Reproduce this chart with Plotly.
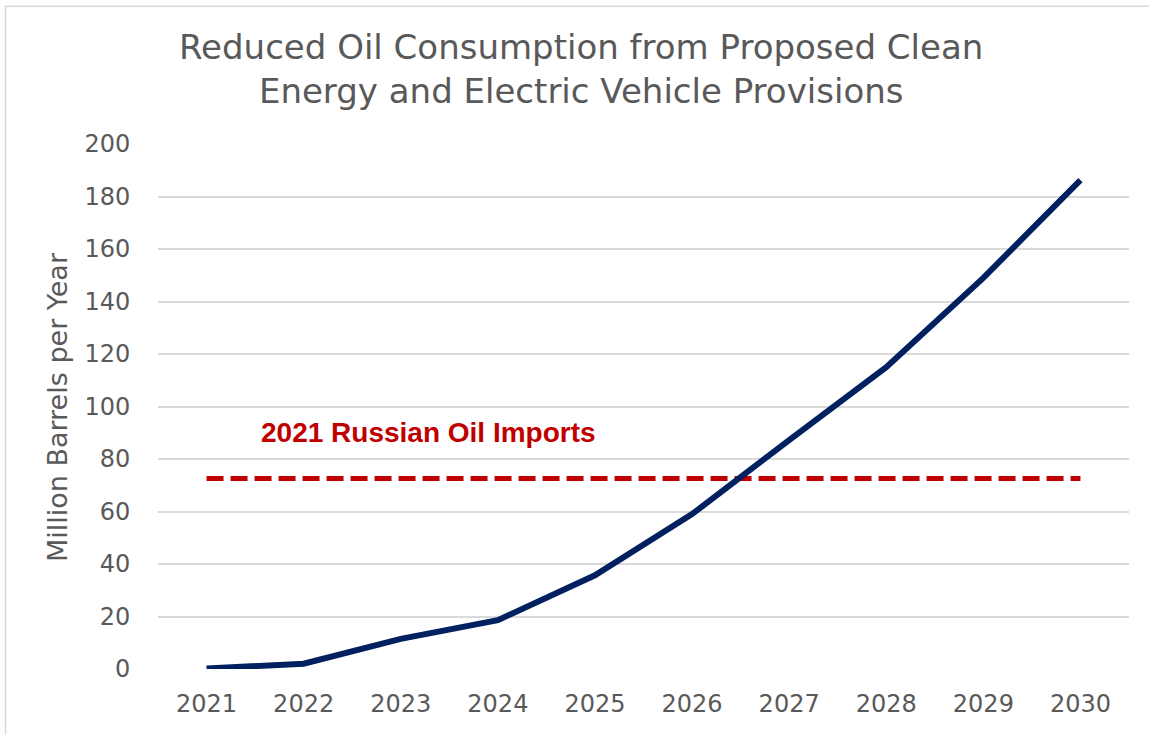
import plotly.graph_objects as go

years = ["2021", "2022", "2023", "2024", "2025", "2026", "2027", "2028", "2029", "2030"]
reduced_oil = [0.2, 2.0, 11.5, 18.6, 35.7, 59.0, 87.2, 115.0, 149.0, 186.2]
russian_imports = 72.6
y_ticks = [0, 20, 40, 60, 80, 100, 120, 140, 160, 180, 200]

W, H = 1149, 735
L, R, T, B = 158, 20, 143.5, 65.7
pw, ph = W - L - R, H - T - B

def px(x):
    return (x - L) / pw

def py(y):
    return (H - B - y) / ph

FONT = "DejaVu Sans"
GRAY = "#595959"

fig = go.Figure()
fig.add_trace(go.Scatter(
    x=years, y=[russian_imports] * len(years), mode="lines",
    line=dict(color="#C00000", width=5, dash="17px,7px"),
    hoverinfo="skip", showlegend=False))
fig.add_trace(go.Scatter(
    x=years, y=reduced_oil, mode="lines",
    line=dict(color="#002060", width=6),
    showlegend=False))

fig.update_layout(
    width=W, height=H,
    margin=dict(l=L, r=R, t=T, b=B, autoexpand=False),
    paper_bgcolor="white", plot_bgcolor="white",
    font=dict(family=FONT, color=GRAY),
    xaxis=dict(type="category", range=[-0.5, 9.5], showgrid=False, zeroline=False,
               showline=False, ticks="outside", ticklen=13, tickcolor="rgba(0,0,0,0)",
               tickfont=dict(size=24, color=GRAY, family=FONT)),
    yaxis=dict(range=[0, 200], tickvals=y_ticks, showgrid=True, gridcolor="#D9D9D9",
               gridwidth=1.5, zeroline=False, showline=False, ticks="outside",
               ticklen=22, tickcolor="rgba(0,0,0,0)",
               tickfont=dict(size=24, color=GRAY, family=FONT)),
    annotations=[
        dict(text="Reduced Oil Consumption from Proposed Clean<br>Energy and Electric Vehicle Provisions",
             xref="paper", yref="paper", x=px(581), y=py(68), xanchor="center", yanchor="middle",
             showarrow=False, font=dict(size=34, color=GRAY, family=FONT)),
        dict(text="Million Barrels per Year", textangle=-90,
             xref="paper", yref="paper", x=px(57), y=py(407), xanchor="center", yanchor="middle",
             showarrow=False, font=dict(size=27, color=GRAY, family=FONT)),
        dict(text="<b>2021 Russian Oil Imports</b>",
             xref="paper", yref="paper", x=px(428), y=py(432), xanchor="center", yanchor="middle",
             showarrow=False, font=dict(size=28, color="#C00000", family="Liberation Sans")),
    ],
    shapes=[
        dict(type="line", xref="paper", yref="paper", x0=px(5.5), x1=px(1149), y0=py(5.5), y1=py(5.5),
             line=dict(color="#D9D9D9", width=1.5)),
        dict(type="line", xref="paper", yref="paper", x0=px(5.5), x1=px(5.5), y0=py(5.5), y1=py(735),
             line=dict(color="#D9D9D9", width=1.5)),
    ],
)

fig.write_html("out.html")
